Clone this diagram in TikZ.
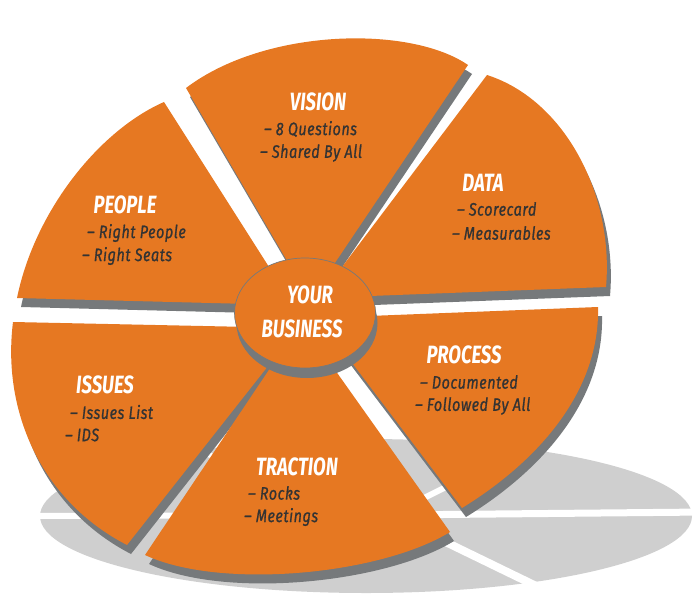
\documentclass[tikz,border=0pt]{standalone}
\usepackage{fontspec}
\usetikzlibrary{shapes.geometric}
\newfontfamily\ttlfont[FakeStretch=0.74]{Fira Sans}
\newfontfamily\subfont[FakeStretch=0.8,LetterSpace=3,FakeBold=0.9]{Fira Sans}
\definecolor{org}{HTML}{E67822}
\definecolor{ext}{HTML}{76797B}
\definecolor{shd}{HTML}{CFCFCF}
\definecolor{txt}{HTML}{333333}
\tikzset{
  seg/.style={fill=org},
  segext/.style={fill=ext, shift={(4,9)}},
  gapline/.style={draw=white, line width=7pt},
  ttl/.style={font=\ttlfont\bfseries\itshape\fontsize{25}{25}\selectfont, text=white, inner sep=0pt},
  item/.style={font=\subfont\itshape\fontsize{18}{18}\selectfont, text=txt, anchor=west, inner sep=0pt},
  pvision/.style={insert path={(186,88) .. controls (265,28) and (410,25) .. (468,65) -- (310,300) -- cycle}},
  ppeople/.style={insert path={(164,102) .. controls (100,130) and (35,210) .. (17,298) -- (250,304) -- (290,300) -- cycle}},
  pdata/.style={insert path={(487,75) .. controls (565,100) and (614,195) .. (606,287) -- (370,296) -- (317,300) -- cycle}},
  pprocess/.style={insert path={(318,318) -- (598,307) .. controls (600,390) and (540,460) .. (462,508) -- cycle}},
  ptraction/.style={insert path={(301,322) -- (450,532) .. controls (380,575) and (220,590) .. (145,555) -- cycle}},
  pissues/.style={insert path={(298,328) -- (127,545) .. controls (40,500) and (2,410) .. (13,322) -- cycle}},
}
\begin{document}
\begin{tikzpicture}[x=1pt,y=-1pt]
\useasboundingbox (0,0) rectangle (700,604);
% ground shadow
\fill[shd] (366,516) ellipse [x radius=326pt, y radius=77pt];
\coordinate (sc) at (390,515);
\coordinate (sR) at (705,512);
\coordinate (sL) at (30,516);
\coordinate (sLR) at (565,600);
\coordinate (sUR) at (490,465);
\coordinate (sUL) at (170,442);
\draw[gapline] (sc) -- (sR);
\draw[gapline, line width=6pt] (sc) -- (sL);
\draw[gapline, line width=8pt] (sc) -- (sLR);
\draw[gapline, line width=6pt] (sc) -- (sUR);
\draw[gapline, line width=5pt] (sc) -- (sUL);
% extrusions
\fill[segext, pvision];
\fill[segext, ppeople];
\fill[segext, pdata];
\fill[segext, pprocess];
\fill[segext, ptraction];
\fill[segext, pissues];
% tops
\fill[seg, pvision];
\fill[seg, ppeople];
\fill[seg, pdata];
\fill[seg, pprocess];
\fill[seg, ptraction];
\fill[seg, pissues];
% hub
\node (hubext) [ellipse, fill=ext, minimum width=141pt, minimum height=110pt, inner sep=0pt] at (307,323) {};
\node (hub) [ellipse, fill=org, draw=ext, line width=0.7pt, minimum width=141pt, minimum height=110pt, inner sep=0pt] at (305,313) {};
\node[ttl] (your) at (310,295) {YOUR};
\node[ttl] (business) at (302,329) {BUSINESS};
% texts
\node[ttl] (vision) at (318,102) {VISION};
\node[item] (v1) at (264,129) {–\ 8 Questions};
\node[item] (v2) at (260,153) {–\ Shared By All};
\node[ttl] (data) at (483,183) {DATA};
\node[item] (d1) at (457,209) {–\ Scorecard};
\node[item] (d2) at (452,233) {–\ Measurables};
\node[ttl] (people) at (125,205) {PEOPLE};
\node[item] (p1) at (87,233) {–\ Right People};
\node[item] (p2) at (82,256) {–\ Right Seats};
\node[ttl] (process) at (464,355) {PROCESS};
\node[item] (r1) at (420,382) {–\ Documented};
\node[item] (r2) at (415,406) {–\ Followed By All};
\node[ttl] (issues) at (105,385) {ISSUES};
\node[item] (i1) at (70,412) {–\ Issues List};
\node[item] (i2) at (65,435) {–\ IDS};
\node[ttl] (traction) at (297,467) {TRACTION};
\node[item] (t1) at (248,493) {–\ Rocks};
\node[item] (t2) at (244,517) {–\ Meetings};
\end{tikzpicture}
\end{document}
